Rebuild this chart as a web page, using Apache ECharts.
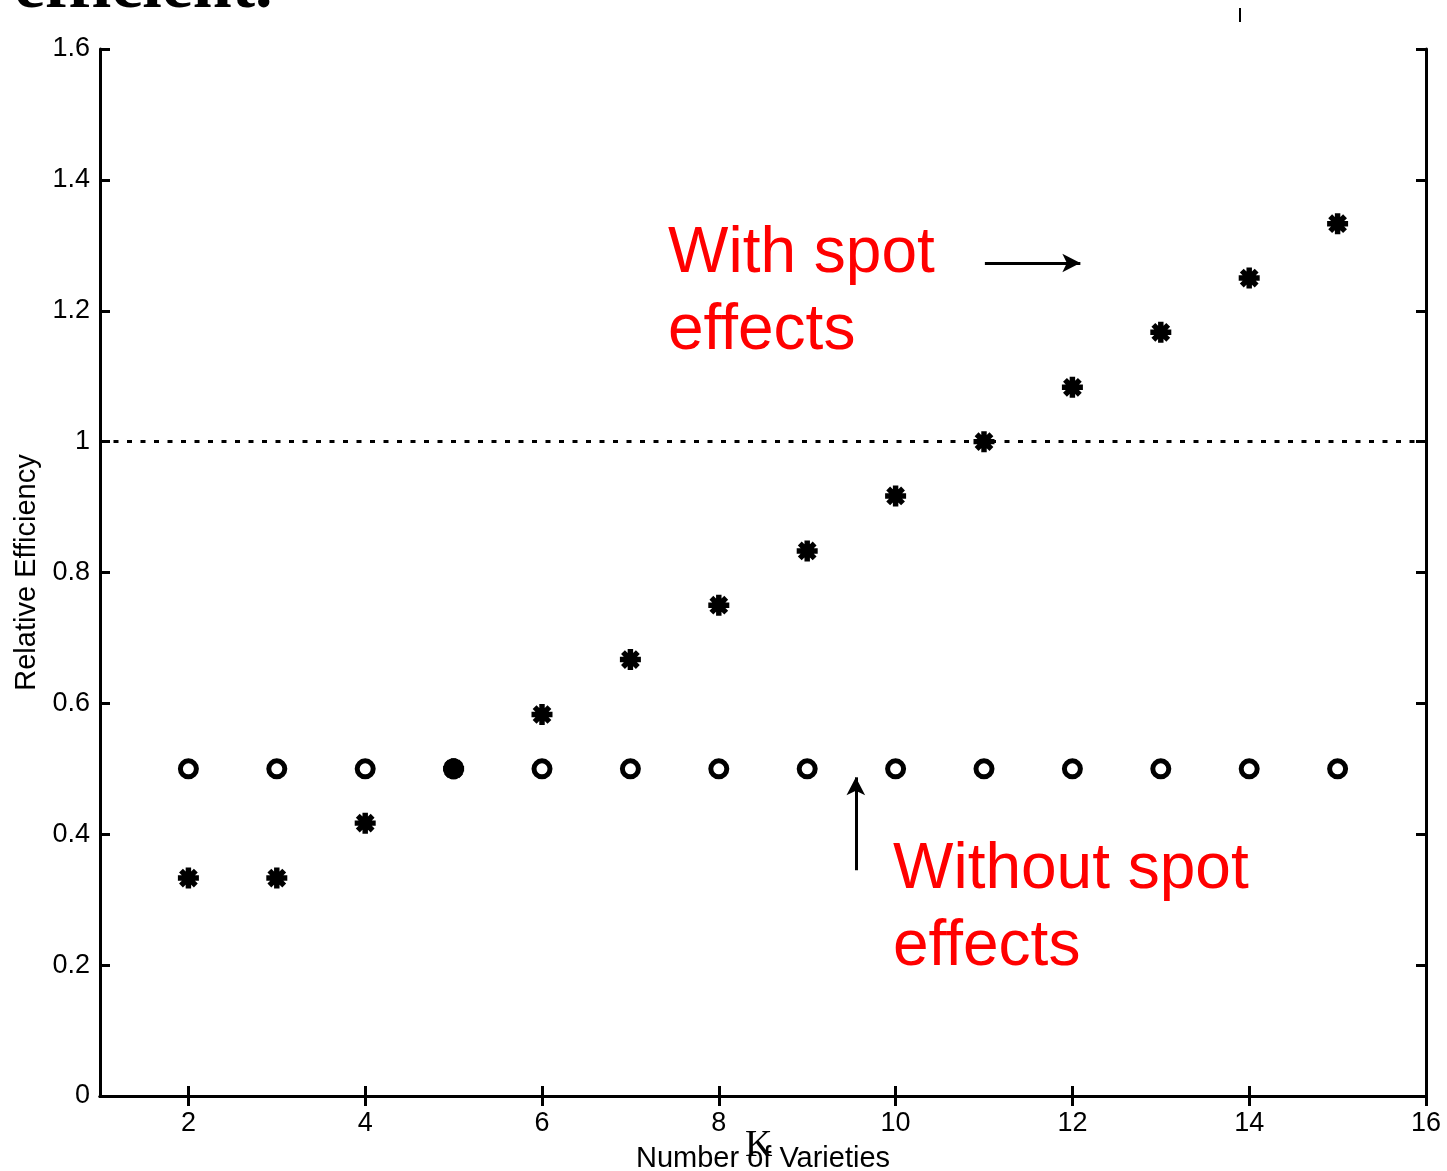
<!DOCTYPE html>
<html>
<head>
<meta charset="utf-8">
<script src="https://cdn.jsdelivr.net/npm/echarts@6/dist/echarts.min.js"></script>
<style>
  html, body { margin: 0; padding: 0; background: #fff; }
  #chartDom { width: 1447px; height: 1171px; }
</style>
</head>
<body>
<div id="chartDom"></div>
<script>
// 数据
const kValues = [2, 3, 4, 5, 6, 7, 8, 9, 10, 11, 12, 13, 14, 15];
const withSpot = [0.333, 0.333, 0.417, 0.5, 0.583, 0.667, 0.75, 0.833, 0.917, 1.0, 1.083, 1.167, 1.25, 1.333];
const withoutSpot = [0.5, 0.5, 0.5, 0.5, 0.5, 0.5, 0.5, 0.5, 0.5, 0.5, 0.5, 0.5, 0.5, 0.5];
const xTickValues = [2, 4, 6, 8, 10, 12, 14, 16];
const refLevel = 1;

// 星号形状: 4 rotated bars (nonzero fill -> union)
let starPath = 'path://';
for (let i = 0; i < 4; i++) {
  const a = (Math.PI * i) / 4;
  const c = Math.cos(a), s = Math.sin(a);
  const L = 10, W = 2.6;
  const pts = [[-L, -W], [L, -W], [L, W], [-L, W]].map(p =>
    [(10 + p[0] * c - p[1] * s).toFixed(2), (10 + p[0] * s + p[1] * c).toFixed(2)]);
  starPath += 'M' + pts.map(p => p.join(' ')).join('L') + 'Z';
}

const font = 'Liberation Sans, Arial, sans-serif';
const axisLine = { show: true, lineStyle: { color: '#000', width: 3 } };
const axisTick = { show: true, inside: true, length: 10, lineStyle: { color: '#000', width: 3 } };

let myChart = echarts.init(document.getElementById('chartDom'));
myChart.setOption({
  animation: false,
  backgroundColor: '#fff',
  grid: { left: 100, right: 21, top: 49, bottom: 75, containLabel: false, outerBoundsMode: 'none' },
  xAxis: [
    {
      type: 'value', min: 1, max: 16, position: 'bottom',
      axisLine: axisLine,
      axisTick: Object.assign({ customValues: xTickValues }, axisTick),
      axisLabel: { customValues: xTickValues, color: '#000', fontSize: 27, fontFamily: font, margin: 14 },
      splitLine: { show: false },
      name: 'Number of Varieties', nameLocation: 'middle', nameGap: 48,
      nameTextStyle: { color: '#000', fontSize: 29, fontFamily: font }
    },
    {
      type: 'value', min: 1, max: 16, position: 'top',
      axisLine: axisLine,
      axisTick: Object.assign({ customValues: xTickValues }, axisTick),
      axisLabel: { show: false },
      splitLine: { show: false }
    }
  ],
  yAxis: [
    {
      type: 'value', min: 0, max: 1.6, interval: 0.2, position: 'left',
      axisLine: axisLine, axisTick: axisTick,
      axisLabel: { color: '#000', fontSize: 27, fontFamily: font, margin: 10 },
      splitLine: { show: false },
      name: 'Relative Efficiency', nameLocation: 'middle', nameGap: 57,
      nameTextStyle: { color: '#000', fontSize: 29, fontFamily: font }
    },
    {
      type: 'value', min: 0, max: 1.6, interval: 0.2, position: 'right',
      axisLine: axisLine, axisTick: axisTick,
      axisLabel: { show: false },
      splitLine: { show: false }
    }
  ],
  series: [
    {
      name: 'Without spot effects',
      type: 'scatter',
      symbol: 'circle',
      symbolSize: 16,
      itemStyle: { color: '#fff', borderColor: '#000', borderWidth: 5, opacity: 1 },
      data: kValues.map((k, i) => [k, withoutSpot[i]]),
      markLine: {
        silent: true,
        symbol: 'none',
        label: { show: false },
        lineStyle: { color: '#000', width: 3, type: [5, 8.5] },
        data: [{ yAxis: refLevel }]
      }
    },
    {
      name: 'With spot effects',
      type: 'scatter',
      symbol: starPath,
      symbolSize: 21,
      itemStyle: { color: '#000', opacity: 1 },
      data: kValues.map((k, i) => [k, withSpot[i]]),
      markLine: {
        silent: true,
        symbol: ['none', 'arrow'],
        symbolSize: [14, 18],
        label: { show: false },
        lineStyle: { color: '#000', width: 3, type: 'solid' },
        data: [
          [{ coord: [11.01, 1.273] }, { coord: [12.09, 1.273] }],
          [{ coord: [9.55, 0.345] }, { coord: [9.55, 0.487] }]
        ]
      }
    }
  ],
  graphic: [
    { type: 'text', x: 14, y: 24, style: { text: 'efficient.', font: 'bold 70px Liberation Serif, serif', fill: '#000', verticalAlign: 'bottom' } },
    { type: 'line', shape: { x1: 1240, y1: 8, x2: 1240, y2: 22 }, style: { stroke: '#000', lineWidth: 2 } },
    { type: 'text', left: 668, top: 216, style: { text: 'With spot\neffects', font: '64px Liberation Sans, Arial, sans-serif', fill: '#ff0000', lineHeight: 77 } },
    { type: 'text', left: 893, top: 832, style: { text: 'Without spot\neffects', font: '64px Liberation Sans, Arial, sans-serif', fill: '#ff0000', lineHeight: 77 } },
    { type: 'text', left: 745, top: 1127, style: { text: 'K', font: '38px Liberation Serif, serif', fill: '#000' } }
  ]
});
</script>
</body>
</html>
